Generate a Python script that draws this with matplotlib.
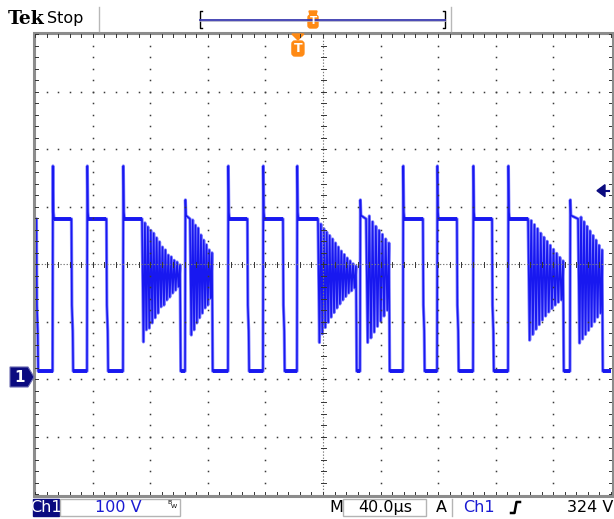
import matplotlib
matplotlib.use("Agg")
import matplotlib.pyplot as plt
from matplotlib.patches import Rectangle, Polygon, FancyBboxPatch
from matplotlib.collections import LineCollection
import numpy as np

W, H = 614, 519

volts_per_div = 100          # Ch1 100 V/div
time_per_div = 40.0          # M 40.0 µs/div
trigger_level = 324          # V
trigger_time = 182.6         # µs from left edge of screen
ground_div = -1.965          # ground marker, divisions from centre
n_hdiv, n_vdiv = 10, 8

level_low = 10
level_high = 275
level_spike = 367
level_spike_sub = 308
level_step = [125, 80]       # intermediate step on falling edges

initial_high_end = 1.0
pulse_rise = [12.2, 36.1, 61.1, 134.0, 158.3, 181.9, 255.5, 279.2, 304.2, 328.5]
pulse_end = [25.3, 49.6, 74.3, 147.5, 172.2, 196.5, 269.4, 293.0, 317.4, 342.4]
pulse_ring = [None, None, 0, None, None, 1, None, None, None, 2]

ring_end = [100.7, 222.9, 366.7]
ring_upper = [
    [268, 261, 255, 250, 242, 235, 226, 221, 212, 209, 203, 200, 195],
    [266, 258, 252, 246, 240, 233, 226, 219, 213, 207, 202, 197, 193],
    [272, 265, 258, 250, 243, 236, 229, 222, 215, 208, 202],
]
ring_lower = [
    [61, 82, 85, 94, 103, 111, 122, 125, 134, 139, 146, 151, 157],
    [60, 75, 86, 95, 104, 112, 120, 127, 134, 140, 146, 150, 155],
    [64, 74, 83, 91, 99, 106, 113, 119, 125, 130, 134],
]

sub_rise = [104.2, 225.7, 371.5]
sub_ring_start = [107.6, 229.9, 377.1]
sub_ring_end = [122.9, 245.8, 393.8]
sub_upper = [
    [273, 264, 259, 247, 238, 230, 221, 216],
    [280, 270, 262, 255, 248, 240, 233],
    [278, 270, 262, 254, 246, 238, 229, 221],
]
sub_lower = [
    [73, 82, 94, 103, 111, 120, 125, 137],
    [60, 68, 78, 88, 97, 106, 116],
    [59, 66, 74, 81, 88, 96, 104, 111],
]

# ---------------- build trace ----------------
def ring(t0, t1, upper, lower):
    n = len(upper)
    ts = np.linspace(t0, t1, 2 * n + 1)[1:]
    vs = []
    for u, l in zip(upper, lower):
        vs += [l, u]
    return list(zip(ts, vs))

blocks = [[(0, level_high), (initial_high_end, level_high),
           (initial_high_end + 0.3, level_step[0]), (initial_high_end + 0.9, level_step[1]),
           (initial_high_end + 1.2, level_low)]]
for tr, te, rb in zip(pulse_rise, pulse_end, pulse_ring):
    pts = [(tr, level_low), (tr + 0.25, level_spike), (tr + 0.6, level_high + 12),
           (tr + 1.0, level_high), (te, level_high)]
    if rb is None:
        pts += [(te + 0.3, level_step[0]), (te + 0.9, level_step[1]), (te + 1.2, level_low)]
    else:
        pts += ring(te, ring_end[rb], ring_upper[rb], ring_lower[rb])
        pts += [(ring_end[rb] + 0.5, level_low)]
    blocks.append(pts)
for i in range(len(sub_rise)):
    pts = [(sub_rise[i], level_low), (sub_rise[i] + 0.25, level_spike_sub),
           (sub_rise[i] + 0.6, level_high + 6), (sub_ring_start[i], level_high)]
    pts += ring(sub_ring_start[i], sub_ring_end[i], sub_upper[i], sub_lower[i])
    pts += [(sub_ring_end[i] + 0.5, level_low)]
    blocks.append(pts)
blocks.sort(key=lambda b: b[0][0])
trace = [p for b in blocks for p in b] + [(n_hdiv * time_per_div, level_low)]
tt = np.array([p[0] for p in trace])
vv = np.array([p[1] for p in trace])

# ---------------- figure ----------------
fig = plt.figure(figsize=(W / 100, H / 100), dpi=100)
fig.patch.set_facecolor("white")

L, R, T, B = 35, 611, 34, 494
ax = fig.add_axes([L / W, 1 - B / H, (R - L) / W, (B - T) / H])
centre_v = -ground_div * volts_per_div
ax.set_xlim(0, n_hdiv * time_per_div)
ax.set_ylim(centre_v - n_vdiv / 2 * volts_per_div, centre_v + n_vdiv / 2 * volts_per_div)
ax.axis("off")

trace_col = "#1818f0"
ax.plot(tt, vv, color="#8484ff", lw=2.3, zorder=3)
ax.plot(tt, vv, color=trace_col, lw=1.15, zorder=4)
segs = []
for i in range(len(tt) - 1):
    if vv[i] == vv[i + 1] and vv[i] in (level_low, level_high) and tt[i + 1] > tt[i]:
        segs.append([(tt[i], vv[i]), (tt[i + 1], vv[i + 1])])
ax.add_collection(LineCollection(segs, colors=trace_col, linewidths=2.8, zorder=5))

# overlay in pixel coordinates
ov = fig.add_axes([0, 0, 1, 1], zorder=10)
ov.set_xlim(0, W)
ov.set_ylim(H, 0)
ov.axis("off")

dx = (R - L) / n_hdiv
dy = (B - T) / n_vdiv
# grid dots
gx, gy = [], []
for i in range(1, n_hdiv):
    if i == n_hdiv // 2:
        continue
    for j in range(1, n_vdiv * 5):
        gx.append(L + i * dx)
        gy.append(T + j * dy / 5)
for i in range(1, n_vdiv):
    if i == n_vdiv // 2:
        continue
    for j in range(1, n_hdiv * 5):
        gx.append(L + j * dx / 5)
        gy.append(T + i * dy)
ov.plot(gx, gy, ls="none", marker="s", ms=1.1, mfc="#3a3a3a", mec="none")

# centre cross
cx, cy = L + 5 * dx, T + 4 * dy
ov.plot([L, R], [cy, cy], color="#7a7a7a", lw=0.8, ls=(0, (1.2, 1.6)))
ov.plot([cx, cx], [T, B], color="#7a7a7a", lw=0.8, ls=(0, (1.2, 1.6)))
for j in range(1, n_hdiv * 5):
    x = L + j * dx / 5
    ov.plot([x, x], [cy - 2.5, cy + 2.5], color="#333333", lw=0.7)
for j in range(1, n_vdiv * 5):
    y = T + j * dy / 5
    ov.plot([cx - 2.5, cx + 2.5], [y, y], color="#333333", lw=0.7)

# border with ticks
ov.add_patch(Rectangle((L - 1.5, T - 1.5), R - L + 3, B - T + 3, fill=False,
                       ec="#8c8c8c", lw=2.2))
for j in range(0, n_hdiv * 5 + 1):
    x = L + j * dx / 5
    ov.plot([x, x], [T, T + 2.5], color="#333333", lw=0.7)
    ov.plot([x, x], [B - 2.5, B], color="#333333", lw=0.7)
for j in range(0, n_vdiv * 5 + 1):
    y = T + j * dy / 5
    ov.plot([L, L + 2.5], [y, y], color="#333333", lw=0.7)
    ov.plot([R - 2.5, R], [y, y], color="#333333", lw=0.7)

navy = "#0b0b80"
orange = "#ff8a14"

# ground marker
gpy = cy - ground_div * dy
ov.add_patch(Polygon([(10, gpy - 10), (28, gpy - 10), (34, gpy), (28, gpy + 10), (10, gpy + 10)],
                     closed=True, fc=navy, ec="#6a6ab0", lw=0.8))
ov.text(19.5, gpy + 0.5, "1", color="white", fontsize=11, fontweight="bold",
        ha="center", va="center")

# trigger level arrow (right)
tly = cy - (trigger_level - centre_v) / volts_per_div * dy
ov.add_patch(Polygon([(597, tly), (605, tly - 6), (605, tly + 6)], closed=True, fc=navy, ec=navy))
ov.plot([604, 609], [tly, tly], color=navy, lw=1.5)

# trigger position marker (top)
tpx = L + trigger_time / time_per_div * dx
ov.add_patch(Polygon([(tpx - 6, T), (tpx + 6, T), (tpx, T + 6)], closed=True, fc=orange, ec=orange))
ov.add_patch(FancyBboxPatch((tpx - 6, 41), 12, 15, boxstyle="round,pad=0,rounding_size=3",
                            fc=orange, ec=orange))
ov.text(tpx, 49, "T", color="white", fontsize=9, fontweight="bold", ha="center", va="center")

# header
ov.text(8, 19, "Tek", fontsize=13.5, fontweight="bold", family="DejaVu Serif",
        ha="left", va="center", color="black")
ov.text(47, 19, "Stop", fontsize=11.5, ha="left", va="center", color="black")
ov.plot([99, 99], [7, 31], color="#b8b8b8", lw=1)
ov.plot([451, 451], [7, 31], color="#b8b8b8", lw=1)
ov.plot([202, 200, 200, 202], [11, 11, 28, 28], color="black", lw=1)
ov.plot([443, 445, 445, 443], [11, 11, 28, 28], color="black", lw=1)
ov.plot([200, 445], [19.5, 19.5], color="#3a3ab0", lw=1.3)
ov.plot([200, 445], [21, 21], color="#b0b0c8", lw=0.6)
ov.add_patch(Polygon([(309, 11), (317, 11), (316, 15), (310, 15)], closed=True, fc=orange, ec=orange))
ov.add_patch(FancyBboxPatch((308, 15), 10, 13, boxstyle="round,pad=0,rounding_size=2.5",
                            fc=orange, ec=orange))
ov.text(313, 21.5, "T", color="white", fontsize=7.5, fontweight="bold", ha="center", va="center")

# status bar
ov.add_patch(Rectangle((33, 499), 26, 17, fc=navy, ec=navy))
ov.text(46, 507.5, "Ch1", color="white", fontsize=11.5, ha="center", va="center")
ov.add_patch(Rectangle((60, 499), 120, 17, fc="white", ec="#b4b4b4", lw=1))
ov.text(118, 507.5, "100 V", color="#1a1ad2", fontsize=11.5, ha="center", va="center")
ov.text(170, 502.5, "B", color="black", fontsize=4.5, ha="center", va="center")
ov.text(174, 506.5, "W", color="black", fontsize=4.5, ha="center", va="center")
ov.text(336, 507.5, "M", color="black", fontsize=11.5, ha="center", va="center")
ov.add_patch(Rectangle((343, 499), 83, 17, fc="white", ec="#b4b4b4", lw=1))
ov.text(385, 507.5, "40.0µs", color="black", fontsize=11.5, ha="center", va="center")
ov.text(441, 507.5, "A", color="black", fontsize=11.5, ha="center", va="center")
ov.plot([452, 452], [499, 516], color="#b4b4b4", lw=1)
ov.text(479, 507.5, "Ch1", color="#1a1ad2", fontsize=11.5, ha="center", va="center")
ov.plot([511, 514.5, 516.5, 520], [513, 513, 502, 502], color="black", lw=1.8)
ov.text(590, 507.5, "324 V", color="black", fontsize=11.5, ha="center", va="center")

fig.savefig("out.png", dpi=100, facecolor="white")
